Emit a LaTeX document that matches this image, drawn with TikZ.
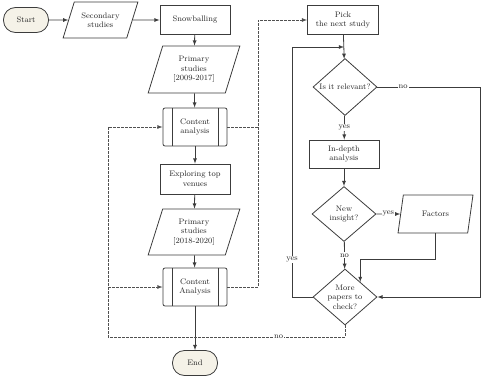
\documentclass[tikz,border=0pt]{standalone}
\usepackage{tikz}
\usetikzlibrary{calc}
\usetikzlibrary{shapes.geometric}

\definecolor{termfill}{RGB}{245,242,232}
\definecolor{linegray}{RGB}{60,60,60}

\begin{document}
\begin{tikzpicture}[x=1pt, y=-1pt, line width=0.8pt,
	every node/.style={font=\fontsize{8}{9.5}\selectfont, align=center, text=black!85},
	term/.style={draw=linegray, fill=termfill, rounded corners=12pt, minimum width=45pt, minimum height=25pt},
	procbox/.style={draw=linegray, rectangle, minimum width=70pt, minimum height=29pt},
	iobox/.style={draw=linegray, trapezium, trapezium stretches=true, inner sep=0pt},
	subproc/.style={draw=linegray, rounded corners=2pt, minimum width=64pt, minimum height=38pt,
		path picture={
			\draw[linegray] ([xshift=9pt]path picture bounding box.north west) -- ([xshift=9pt]path picture bounding box.south west);
			\draw[linegray] ([xshift=-9pt]path picture bounding box.north east) -- ([xshift=-9pt]path picture bounding box.south east);
		}},
	choice/.style={draw=linegray, diamond, inner sep=-2pt, minimum width=64pt, minimum height=57pt},
	flow/.style={draw=linegray, -latex},
	flowdash/.style={draw=linegray!90, dash pattern=on 2.5pt off 1.5pt},
	lbl/.style={fill=white, inner sep=1pt}]
	\useasboundingbox (0,0) rectangle (486,377);

	% Left column
	\node[term] (start) at (26,20) {Start};
	\node[iobox, trapezium left angle=62, trapezium right angle=118, minimum width=75pt, minimum height=36pt] (sec) at (100.5,20) {Secondary\\studies};
	\node[procbox] (snow) at (195,20) {Snowballing};
	\node[iobox, trapezium left angle=70, trapezium right angle=110, minimum width=92pt, minimum height=47pt] (prim1) at (194,69.5) {Primary\\studies\\{[}2009-2017{]}};
	\node[subproc] (ca1) at (195,127) {Content\\analysis};
	\node[procbox, minimum height=30pt] (venues) at (195,179) {Exploring top\\venues};
	\node[iobox, trapezium left angle=70, trapezium right angle=110, minimum width=92pt, minimum height=46pt] (prim2) at (194,232) {Primary\\studies\\{[}2018-2020{]}};
	\node[subproc] (ca2) at (195,287) {Content\\Analysis};
	\node[term] (stop) at (195,363) {End};

	% Right column
	\node[procbox, minimum width=71pt] (pick) at (343,20) {Pick\\the next study};
	\node[choice] (rel) at (345,87) {Is it relevant?};
	\node[procbox, minimum height=28pt] (deep) at (344,154) {In-depth\\analysis};
	\node[choice, minimum height=55pt] (ins) at (344,214) {New\\insight?};
	\node[iobox, trapezium left angle=68, trapezium right angle=112, minimum width=75pt, minimum height=38pt] (fac) at (435.5,214) {Factors};
	\node[choice, minimum height=56pt] (more) at (345,297) {More\\papers to\\check?};

	% Bends of the connectors
	\coordinate (rbus) at (258,127);
	\coordinate (lbus) at (108,337);
	\coordinate (lmid) at (108,287);
	\coordinate (rno) at (480,87);
	\coordinate (loopin) at (344,47);
	\coordinate (lloop) at (292,47);
	\coordinate (medge) at ($(more.north)!0.47!(more.east)$);

	% Main flow
	\draw[flow] (start) -- (sec);
	\draw[flow] (sec) -- (snow);
	\draw[flow] (snow) -- (prim1);
	\draw[flow] (prim1) -- (ca1);
	\draw[flow] (ca1) -- (venues);
	\draw[flow] (venues) -- (prim2);
	\draw[flow] (prim2) -- (ca2);
	\draw[flow] (ca2) -- (stop);

	% Dashed links between the columns
	\draw[flowdash, -latex] (ca1.east) -- (rbus) |- (pick.west);
	\draw[flowdash] (ca2.east) -| (rbus);
	\draw[flowdash, -latex] (more.south) |- node[lbl, pos=0.64] {no} (lbus) |- (ca1.west);
	\draw[flowdash, -latex] (lmid) -- (ca2.west);

	% Study loop
	\draw[flow] (pick) -- (rel);
	\draw[flow] (rel) -- node[lbl] {yes} (deep);
	\draw[flow] (deep) -- (ins);
	\draw[flow] (ins) -- node[lbl] {yes} (fac);
	\draw[flow] (ins) -- node[lbl] {no} (more);
	\draw[flow] (fac.south) |- ($(medge)+(0,-23)$) -- (medge);
	\draw[flow] (rel.east) -- node[lbl, pos=0.25] {no} (rno) |- (more.east);
	\draw[draw=linegray] (more.west) -| node[lbl, pos=0.575] {yes} (lloop);
	\draw[flow] (lloop) -- (loopin);
\end{tikzpicture}
\end{document}
